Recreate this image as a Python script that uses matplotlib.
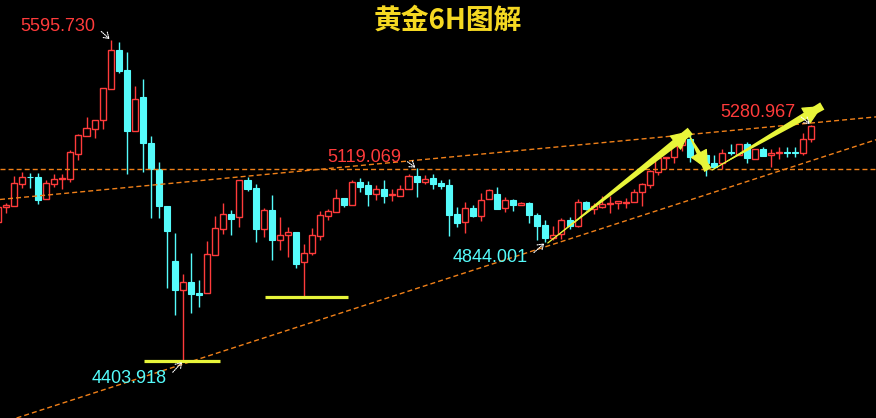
import numpy as np
import matplotlib.pyplot as plt
from matplotlib.patches import FancyArrowPatch

# 6H gold candles (price values)
opens = [4919.9, 4975.6, 4980.5, 5062.2, 5087.0, 5087.0, 5006.5, 5062.2, 5079.6, 5080.7,
         5173.6, 5240.4, 5266.4, 5297.6, 5414.9, 5557.5, 5483.2, 5259.0, 5384.1, 5212.2,
         5115.6, 4979.4, 4775.2, 4667.5, 4697.2, 4655.2, 4657.5, 4798.6, 4895.1, 4948.5,
         4939.6, 5074.8, 5046.2, 4895.1, 4963.4, 4854.2, 4870.6, 4882.8, 4770.3, 4806.0,
         4869.1, 4943.4, 4958.2, 5008.0, 4984.2, 5068.5, 5057.3, 5025.0, 5042.5, 5021.0,
         5017.6, 5041.4, 5090.8, 5069.6, 5083.3, 5065.9, 5057.3, 4949.7, 4921.1, 4973.1,
         4943.4, 5004.2, 5023.9, 4970.8, 5002.8, 4982.0, 4990.5, 4947.1, 4908.8, 4861.7,
         4875.4, 4927.4, 4906.2, 4993.1, 4967.1, 4976.8, 4988.3, 4989.4, 4992.0, 4993.1,
         5030.2, 5058.5, 5104.5, 5157.6, 5160.2, 5207.7, 5228.1, 5166.5, 5168.7, 5140.1,
         5137.9, 5179.9, 5168.7, 5209.6, 5155.0, 5189.9, 5168.7, 5177.6, 5179.1, 5179.1,
         5175.1, 5227.0]
highs = [4983.1, 4990.5, 5090.8, 5105.6, 5101.9, 5100.8, 5075.9, 5097.1, 5098.2, 5187.3,
         5246.7, 5308.7, 5297.6, 5416.4, 5595.73, 5590.0, 5551.2, 5425.0, 5450.9, 5239.3,
         5142.7, 4979.4, 4879.1, 4726.9, 4804.9, 4704.6, 4849.4, 4942.2, 4990.5, 4964.5,
         5075.9, 5086.0, 5061.1, 4970.8, 5020.2, 4938.5, 4901.4, 4882.8, 4837.2, 4896.6,
         4960.8, 4969.3, 5042.5, 5008.0, 5075.9, 5082.2, 5072.2, 5057.3, 5075.9, 5042.5,
         5057.3, 5099.3, 5119.069, 5093.4, 5098.2, 5075.9, 5078.5, 4974.5, 4993.1, 4982.0,
         5026.5, 5041.4, 5048.8, 5012.8, 5006.5, 4994.2, 4994.2, 4952.3, 4927.4, 4905.1,
         4934.8, 4937.4, 5004.2, 4999.1, 4989.4, 5016.5, 5016.5, 4998.0, 5008.0, 5042.5,
         5065.9, 5113.0, 5165.0, 5161.3, 5220.7, 5248.6, 5250.4, 5176.2, 5177.3, 5168.7,
         5189.9, 5209.6, 5209.6, 5218.1, 5189.9, 5199.6, 5189.9, 5197.3, 5197.3, 5197.3,
         5251.5, 5280.967]
lows = [4912.5, 4953.4, 4979.4, 5047.3, 5047.3, 4985.7, 5003.5, 5048.8, 5041.4, 5069.6,
        5150.2, 5240.4, 5233.0, 5264.2, 5414.9, 5474.3, 5098.2, 5257.9, 5106.7, 4934.8,
        4933.7, 4673.8, 4574.7, 4403.918, 4581.0, 4605.5, 4657.5, 4798.6, 4876.5, 4872.8,
        4902.5, 5036.2, 4846.8, 4865.4, 4780.0, 4817.1, 4791.1, 4750.3, 4642.6, 4797.4,
        4853.1, 4927.4, 4958.2, 4976.8, 4984.2, 5032.5, 4980.5, 5002.8, 4991.6, 4999.1,
        5017.6, 5041.4, 5013.9, 5062.2, 5041.4, 5041.4, 4869.1, 4902.5, 4880.2, 4939.6,
        4924.8, 5004.2, 4969.3, 4958.2, 4961.9, 4982.0, 4917.4, 4853.1, 4844.001, 4852.0,
        4856.0, 4892.9, 4900.3, 4964.5, 4949.7, 4970.8, 4954.5, 4969.3, 4973.1, 4993.1,
        4979.4, 5047.3, 5093.4, 5115.6, 5137.9, 5183.6, 5142.7, 5150.2, 5090.8, 5125.3,
        5115.6, 5168.7, 5168.7, 5140.1, 5155.0, 5166.1, 5125.3, 5153.9, 5162.4, 5162.4,
        5166.9, 5218.1]
closes = [4975.6, 4983.1, 5063.6, 5087.0, 5085.2, 5002.8, 5063.6, 5080.7, 5081.5, 5178.8,
          5241.9, 5267.9, 5297.6, 5416.4, 5557.5, 5481.7, 5259.0, 5375.5, 5212.2, 5115.6,
          4979.4, 4886.5, 4667.5, 4696.1, 4652.7, 4648.9, 4800.0, 4896.6, 4948.5, 4932.2,
          5074.8, 5043.6, 4894.0, 4963.4, 4854.2, 4870.6, 4882.8, 4765.1, 4803.7, 4870.6,
          4944.8, 4959.7, 5008.0, 4983.1, 5067.4, 5049.9, 5025.0, 5041.4, 5017.6, 5023.9,
          5042.5, 5090.8, 5069.6, 5078.5, 5062.2, 5054.8, 4946.0, 4917.4, 4970.8, 4943.4,
          5000.5, 5037.7, 4969.3, 5000.5, 4982.0, 4989.4, 4947.1, 4906.2, 4861.7, 4871.7,
          4927.4, 4905.1, 4993.1, 4969.3, 4979.4, 4985.7, 4989.4, 4998.0, 4993.1, 5032.5,
          5060.0, 5109.3, 5156.5, 5159.5, 5203.3, 5224.4, 5162.4, 5168.0, 5139.0, 5125.3,
          5178.0, 5174.3, 5209.6, 5158.7, 5189.9, 5166.1, 5177.3, 5179.1, 5177.6, 5177.6,
          5227.0, 5276.4]

# marked extremes: (text, candle index, price, text offset in points, colour)
marks = [("5595.730", 14, 5595.73, (-11, 10), "red"),
         ("5119.069", 52, 5119.069, (-11, 8), "red"),
         ("4844.001", 68, 4844.001, (-12.5, -11), "cyan"),
         ("4403.918", 23, 4403.918, (-11.5, -12.5), "cyan"),
         ("5280.967", 101, 5280.967, (-11.5, 9), "red")]

# drawn lines: channel top, channel bottom, horizontal level
upper_line = [(1, 5005.7), (101, 5287.5)]
lower_line = [(23, 4392.4), (68, 4827.9)]
level = 5117.0
# yellow support bars (candle index span, price)
supports = [(18.1, 27.6, 4403.918), (33.2, 43.5, 4642.6)]
# yellow arrows (tail, head)
yel_arrows = [((68.3, 4842.0), (86.0, 5257.8)),
              ((85.7, 5250.4), (88.2, 5113.0)),
              ((88.7, 5113.0), (102.4, 5350.7))]

RED = '#ff3b3b'
CYAN = '#55fbfb'
ORANGE = '#f08019'
YELLOW = '#e8f53a'

o = np.array(opens); h = np.array(highs); l = np.array(lows); c = np.array(closes)
x = np.arange(len(o))
up = c >= o
cols = np.where(up, RED, CYAN)

fig = plt.figure(figsize=(8.76, 4.18), dpi=100, facecolor='black')
ax = fig.add_axes([0, 0, 1, 1])
ax.set_facecolor('black')
ax.axis('off')

# wicks (not through the hollow bodies)
ax.vlines(x, l, np.minimum(o, c), colors=cols, lw=1, zorder=2)
ax.vlines(x, np.maximum(o, c), h, colors=cols, lw=1, zorder=2)
# bodies
ax.bar(x[up], c[up] - o[up], bottom=o[up], width=0.75, facecolor='black',
       edgecolor=RED, lw=1, zorder=3)
ax.bar(x[~up], o[~up] - c[~up], bottom=c[~up], width=0.75, facecolor=CYAN,
       edgecolor=CYAN, lw=0.8, zorder=3)

# trend lines
dash = dict(color=ORANGE, lw=1, dashes=(3.6, 2.2), zorder=4)
ax.axline(upper_line[0], upper_line[1], **dash)
ax.axline(lower_line[0], lower_line[1], **dash)
ax.axhline(level, **dash)

for x0, x1, p in supports:
    ax.hlines(p, x0, x1, color=YELLOW, lw=2.3, zorder=5)

# tapered arrows: wedge widening towards the head, then a filled head
for tail, head in yel_arrows:
    ax.add_patch(FancyArrowPatch(head, tail, arrowstyle='wedge,tail_width=0.6,shrink_factor=0.5',
                                 mutation_scale=10, color=YELLOW, lw=0,
                                 shrinkA=0, shrinkB=0, zorder=6))
    ax.add_patch(FancyArrowPatch(tail, head, arrowstyle='-|>,head_length=1.25,head_width=0.6',
                                 mutation_scale=10, color=YELLOW, lw=0.9,
                                 shrinkA=0, shrinkB=0, zorder=6))

for txt, i, p, off, col in marks:
    ax.annotate(txt, xy=(i, p), xytext=off, textcoords='offset points',
                ha='right', va='center', color=RED if col == 'red' else CYAN,
                fontsize=13, family='Liberation Sans', zorder=7,
                arrowprops=dict(arrowstyle='->,head_length=0.3,head_width=0.2', color='white',
                                lw=0.8, linestyle=(0, (1, 1)), relpos=(1, 0.5),
                                shrinkA=3, shrinkB=1))

fig.text(448 / 876, 1 - 21 / 418, "黄金6H图解", color='#f5d822', fontsize=20,
         fontweight='bold', family=['Noto Sans CJK SC', 'DejaVu Sans'],
         ha='center', va='center')

ax.set_xlim(0.255, 109.07)
ax.set_ylim(4192.2, 5744.25)

fig.savefig('out.png', dpi=100, facecolor='black')
